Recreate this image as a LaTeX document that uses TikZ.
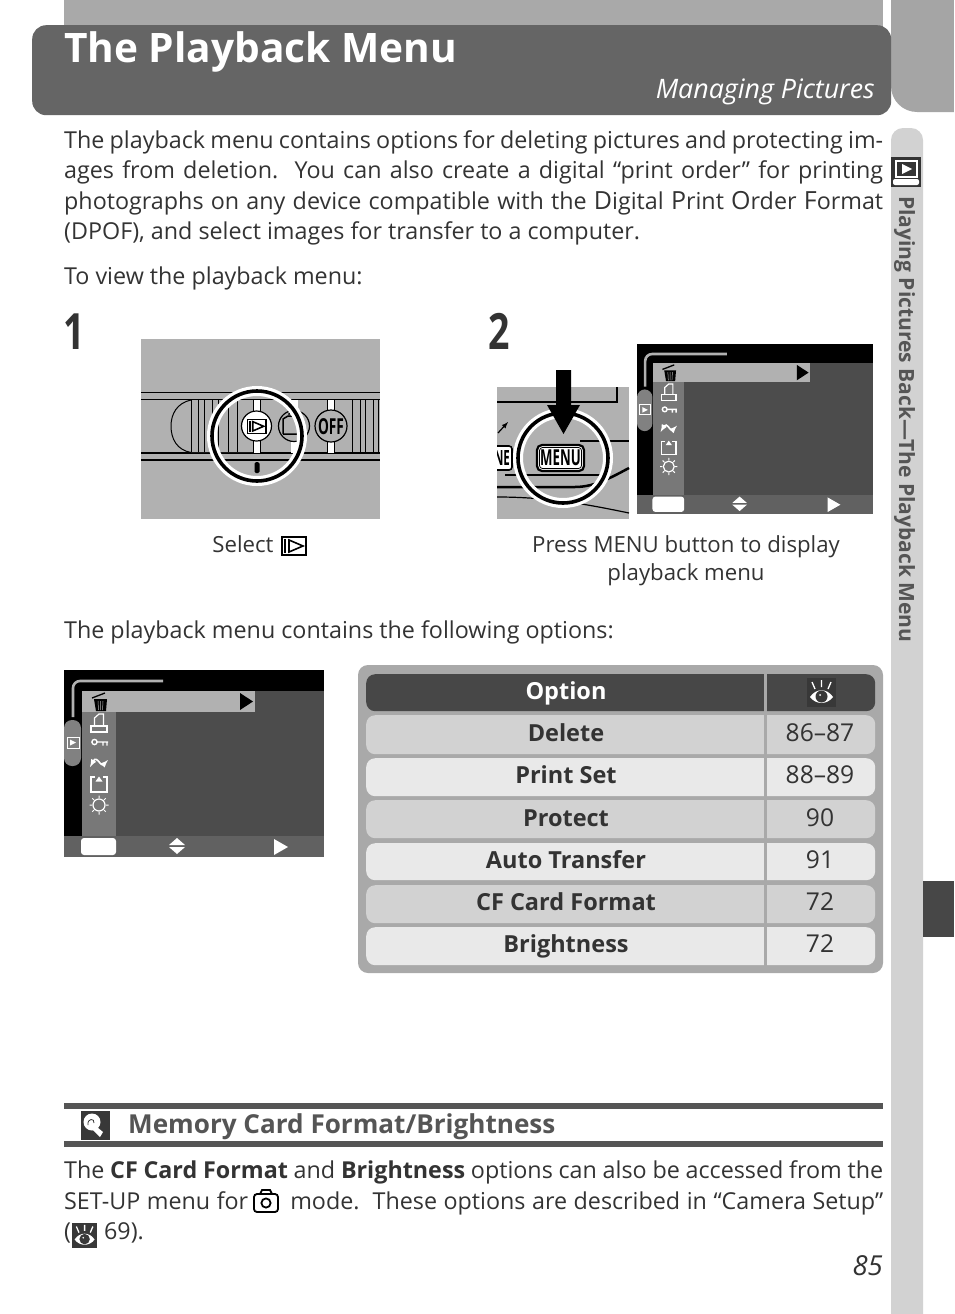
\documentclass[tikz,border=0pt]{standalone}
\usepackage{fontspec}
\usepackage{tikz}
\usetikzlibrary{positioning}
\setmainfont{Open Sans}

\definecolor{inkgray}{HTML}{333333}
\definecolor{headgray}{HTML}{656565}
\definecolor{sidegray}{HTML}{D2D2D2}
\definecolor{rulegray}{HTML}{555555}
\definecolor{panelgray}{HTML}{A9A9A9}
\definecolor{lightrow}{HTML}{E9E9E9}
\definecolor{darkrow}{HTML}{D2D2D2}

\newcommand{\fitline}[1]{\hbox to 819pt{#1}}
\newcommand{\initcap}[1]{{\fontsize{25}{26}\selectfont #1}}

\tikzset{
  % page glyphs
  pics/playglyph/.style={code={
    \fill[black] (0,0) rectangle (26,20);
    \fill[white] (2,2) rectangle (24,18);
    \draw[black, line width=2pt] (4,3) -- (4,17);
    \draw[black, line width=1.6pt, fill=white] (8,4) -- (22,10) -- (8,16) -- cycle;
  }},
  pics/eyeglyph/.style={code={
    \fill[#1] (0,0) rectangle (29,29);
    \draw[white, line width=1.3pt] (14.5,2) -- (14.5,9) (5,4) -- (8,11) (24,4) -- (21,11);
    \fill[white] (3,19) .. controls (9,10) and (20,10) .. (26,19) .. controls (20,27) and (9,27) .. (3,19) -- cycle;
    \fill[#1] (14.5,18.5) circle (6);
    \fill[white] (13,17) circle (1);
  }},
  pics/menuscreen/.style={code={
    \fill[black] (0,0) rectangle (260,187);
    \fill[mainscreen] (18,21) rectangle (260,166);
    \fill[colscreen] (18,42) rectangle (52,166);
    \fill[panelgray!90] (18,21) rectangle (191,42);
    \fill[barscreen] (0,166) rectangle (260,187);
    \fill[white, rounded corners=3pt] (17,168) rectangle (52,185);
    \fill[white] (113,168) -- (121,175) -- (105,175) -- cycle (105,177) -- (121,177) -- (113,184) -- cycle;
    \fill[white] (210,169) -- (224,177) -- (210,185) -- cycle;
    \fill[black] (176,23) -- (189,31.5) -- (176,40) -- cycle;
    % tab and its lead line
    \draw[panelgray!90, line width=2.6pt, rounded corners=7pt] (9,47) -- (9,11) -- (99,11);
    \fill[barscreen!80!white, rounded corners=8pt] (0,50) rectangle (17,96);
    \draw[white, fill=barscreen!80!white, line width=.8pt] (3,67) rectangle (15,78);
    \fill[white] (6,69.5) -- (12,72.5) -- (6,75.5) -- cycle;
    % column icons
    \draw[black, line width=1.3pt] (28,28) -- (41,23);
    \fill[black] (30,29) -- (43,29) -- (42,41) -- (32,41) -- cycle;
    \draw[panelgray!90, line width=.5pt] (34,31) -- (34.5,40) (36.5,31) -- (36.5,40) (39,31) -- (38.5,40);
    \draw[white, line width=1.2pt] (30.5,56) -- (30.5,48) -- (35,44) -- (39.5,44) -- (39.5,56);
    \draw[white, line width=1.2pt] (27,56) rectangle (43,62);
    \draw[white, line width=1.4pt] (30.5,72) circle (2.6) (33,72) -- (44,72) (39,72) -- (39,75.5) (43,72) -- (43,75.5);
    \draw[white, line width=1.6pt, <->, >=latex] (26,97) .. controls (31,88) and (33,89) .. (36,93) .. controls (38,96) and (40,94) .. (44,90);
    \draw[white, line width=1.2pt] (31,107) -- (27,107) -- (27,122) -- (43,122) -- (43,107) -- (39,107);
    \fill[white] (35,106.5) -- (38.5,111.5) -- (31.5,111.5) -- cycle;
    \draw[white, line width=1.2pt] (35,135) circle (6);
    \draw[white, line width=1pt] (35,125.5) -- (35,128) (35,142) -- (35,144.5) (25.5,135) -- (28,135) (42,135) -- (44.5,135)
      (28.3,128.3) -- (30,130) (40,140) -- (41.7,141.7) (41.7,128.3) -- (40,130) (30,140) -- (28.3,141.7);
  }}
}
\colorlet{mainscreen}{black!70}
\colorlet{colscreen}{black!53}
\colorlet{barscreen}{black!62}

\begin{document}
\begin{tikzpicture}[
  x=1pt, y=-1pt,
  every node/.style={inner sep=0pt, text=inkgray},
  bodyline/.style={anchor=base west, font=\fontsize{23.3}{30}\selectfont},
  caption/.style={anchor=base, font=\fontsize{22.2}{28}\selectfont},
  stepnum/.style={anchor=base west, font=\bfseries\fontsize{50}{54}\selectfont},
  optrow/.style={rounded corners=9pt, minimum width=509pt, minimum height=#1, anchor=north west},
  optname/.style={font=\bfseries\fontsize{23.5}{28}\selectfont, anchor=base},
  optpage/.style={font=\fontsize{24.6}{28}\selectfont, anchor=base}
]
\useasboundingbox (0,0) rectangle (954,1314);
\fill[white] (0,0) rectangle (954,1314);

% Page frame
\fill[panelgray] (64,0) rectangle (883,30);
\fill[panelgray!95!headgray, rounded corners=26pt] (891,-40) -- (891,112) -- (990,112) -- (990,-40) -- cycle;
\fill[white] (954,0) rectangle (990,120);
\node[fill=headgray, rounded corners=14pt, minimum width=859pt, minimum height=90pt, anchor=north west] (titlebox) at (32,25) {};
\node[anchor=base west, text=white, font=\bfseries\fontsize{40.6}{42}\selectfont] (title) at (64,63) {The Playback Menu};
\node[anchor=base east, text=white, font=\itshape\fontsize{26.8}{28}\selectfont] (section) at (875,98) {Managing Pictures};
\fill[sidegray, rounded corners=12pt] (891,128) -- (923,128) -- (923,1340) -- (891,1340) -- cycle;
\fill[black!72] (923,881) rectangle (954,937);
\node[rotate=-90, anchor=base west, text=rulegray, font=\bfseries\fontsize{21}{24}\selectfont] (sidetitle) at (899,196) {Playing Pictures Back---The Playback Menu};
\fill[inkgray] (891,157) rectangle (921,187);
\draw[white, line width=1.2pt] (896,161) rectangle (917,177);
\fill[white] (902,164) -- (912,169) -- (902,174) -- cycle;
\fill[white, rounded corners=2pt] (893,179) rectangle (919,185);

% Intro text
\node[bodyline] (introa) at (64,148) {\fitline{The playback menu contains options for deleting pictures and protecting im-}};
\node[bodyline] (introb) at (64,178) {\fitline{ages from deletion.\ \ You can also create a digital “print order” for printing}};
\node[bodyline] (introc) at (64,209) {\fitline{photographs on any device compatible with the \initcap{D}igital \initcap{P}rint \initcap{O}rder \initcap{F}ormat}};
\node[bodyline] (introd) at (64,239) {(DPOF), and select images for transfer to a computer.};
\node[bodyline] (toview) at (64,284) {To view the playback menu:};
\node[stepnum] (stepa) at (63,349) {\scalebox{.75}[1]{1}};
\node[stepnum] (stepb) at (488,349) {\scalebox{.75}[1]{2}};

% Mode dial
\fill[panelgray!90] (141,339) rectangle (380,519);
\draw[black, line width=1.5pt] (141,392.5) -- (380,392.5) (141,399.5) -- (380,399.5) (141,453) -- (380,453) (141,460) -- (380,460);
\fill[panelgray!90] (191,400.5) -- (172,412) -- (171,426) -- (175,442) -- (191,452) -- (260,452) -- (260,400.5) -- cycle;
\draw[black, line width=1pt] (191,400) .. controls (177,403) and (171,414) .. (171,426) .. controls (171,439) and (177,450) .. (191,452.5);
\draw[black, line width=1pt] (191,400) -- (191,452) (198,400) -- (198,452) (204,400) -- (204,452) (212,400) -- (212,452) (218,400) -- (218,452) (228,400) -- (228,452) (237,400) -- (237,452);
\draw[black, line width=1pt] (352,400) -- (352,452) (360,400) -- (360,452) (365,400) -- (365,452) (373,400) -- (373,452) (378,400) -- (378,452);
\fill[white] (253,400) rectangle (260,453);
\draw[black, line width=.8pt] (253,400) -- (253,412) (260,400) -- (260,412) (253,440) -- (253,453) (260,440) -- (260,453);
\draw[black, line width=1.2pt, fill=white] (256.5,426) circle (15);
\pic[scale=.78] at (246.5,418.5) {playglyph};
\fill[white] (290.5,400) rectangle (297.5,412);
\fill[white] (290.5,440) rectangle (297.5,453);
\draw[black, line width=1.2pt, fill=panelgray!90] (294,426) circle (15.5);
\draw[black, line width=1.5pt] (283,434) -- (283,419) -- (288,416) -- (300,416) (283,434) -- (306,434) (298,420) arc (30:-150:5.5);
\fill[white] (327.5,400) rectangle (334.5,453);
\draw[black, line width=.8pt] (327.5,400) -- (327.5,412) (334.5,400) -- (334.5,412) (327.5,440) -- (327.5,453) (334.5,440) -- (334.5,453);
\draw[black, line width=1.2pt, fill=panelgray!90] (331,426) circle (16);
\node[font=\bfseries\fontsize{22}{24}\selectfont, text=black] (offlabel) at (331,427) {\scalebox{.62}[1]{OFF}};
\fill[black, rounded corners=1.5pt] (254.5,462) rectangle (259.5,473);
\draw[white, line width=10pt] (257,436) circle (45);
\draw[black, line width=3.6pt] (257,436) circle (45);
\node[caption] (selectcap) at (243,552) {Select};
\pic at (281,536) {playglyph};

% Menu button
\fill[panelgray!90] (497,387) rectangle (629,519);
\draw[black, line width=1.5pt] (617,387) -- (617,402) -- (497,402);
\draw[black, line width=2.5pt] (580,441) -- (629,441) (505,475) -- (600,475);
\draw[black, line width=2.5pt] (497,487) -- (575,487) .. controls (595,487) and (612,477) .. (629,468);
\draw[black, line width=1.2pt] (497,497) .. controls (550,497) and (590,505) .. (629,513);
\draw[black, line width=1.6pt, rounded corners=3pt, fill=white] (484,446) rectangle (512,470);
\node[font=\bfseries\fontsize{21}{22}\selectfont, text=black] (nelabel) at (502,458) {\scalebox{.55}[1]{NE}};
\draw[black, line width=1.2pt, -latex] (498,433) -- (508,422);
\draw[white, line width=10pt] (563,458) circle (45);
\draw[black, line width=3.6pt] (563,458) circle (45);
\fill[white] (480,380) rectangle (497,525);
\draw[black, line width=2.2pt, rounded corners=5pt, fill=white] (537,445) rectangle (584,471);
\draw[black, line width=.8pt, rounded corners=3pt] (539.5,447.5) rectangle (581.5,468.5);
\node[font=\bfseries\fontsize{22}{24}\selectfont, text=black] (menulabel) at (560.5,458) {\scalebox{.6}[1]{MENU}};
\fill[black] (556,370) -- (571,370) -- (571,405) -- (580,405) -- (563.5,434) -- (547,405) -- (556,405) -- cycle;
\pic[scale=.908] at (637,344) {menuscreen};
\node[caption] (presscap) at (686,552) {Press MENU button to display};
\node[caption] (presscapb) at (686,580) {playback menu};

% Options
\node[bodyline] (optintro) at (64,638) {The playback menu contains the following options:};
\pic at (64,670) {menuscreen};
\fill[panelgray, rounded corners=10pt] (358,665) rectangle (883,973);
\node[optrow=37pt, fill=black!72] (rowhead) at (366,674) {};
\node[optrow=39pt, fill=darkrow] (rowa) at (366,715) {};
\node[optrow=38pt, fill=lightrow] (rowb) at (366,758) {};
\node[optrow=38pt, fill=darkrow] (rowc) at (366,800) {};
\node[optrow=37pt, fill=lightrow] (rowd) at (366,843) {};
\node[optrow=38pt, fill=darkrow] (rowe) at (366,885) {};
\node[optrow=38pt, fill=lightrow] (rowf) at (366,927) {};
\draw[panelgray, line width=3pt] (765.5,665) -- (765.5,973);
\node[optname, text=white] (opthead) at (566,699) {Option};
\pic at (807,678) {eyeglyph=black!78};
\node[optname] (namea) at (566,741) {Delete};
\node[optpage] (pagea) at (820,741) {86–87};
\node[optname] (nameb) at (566,783) {Print Set};
\node[optpage] (pageb) at (820,783) {88–89};
\node[optname] (namec) at (566,826) {Protect};
\node[optpage] (pagec) at (820,826) {90};
\node[optname] (named) at (566,868) {Auto Transfer};
\node[optpage] (paged) at (820,868) {91};
\node[optname] (namee) at (566,910) {CF Card Format};
\node[optpage] (pagee) at (820,910) {72};
\node[optname] (namef) at (566,952) {Brightness};
\node[optpage] (pagef) at (820,952) {72};

% Tip block
\fill[rulegray] (64,1103) rectangle (883,1109);
\fill[rulegray] (64,1141) rectangle (883,1147);
\fill[black!78] (81,1111) rectangle (110,1140);
\fill[white] (92,1122) circle (8.5);
\fill[white] (97,1127) -- (103,1132) -- (100,1137) -- (93,1130) -- cycle;
\draw[black!78, line width=.8pt] (88,1125) .. controls (87,1118) and (95,1118) .. (94,1123);
\node[anchor=base west, text=rulegray, font=\bfseries\fontsize{26.1}{30}\selectfont] (tiptitle) at (128,1133) {Memory Card Format/Brightness};
\node[bodyline] (tipa) at (64,1178) {\fitline{The \textbf{CF Card Format} and \textbf{Brightness} options can also be accessed from the}};
\node[bodyline] (tipb) at (64,1209) {\fitline{SET-UP menu for \hspace{29pt} mode.\ \ These options are described in “Camera Setup”}};
\node[bodyline] (tipc) at (64,1239) {(\hspace{27pt} 69).};
\draw[black, line width=1.8pt, rounded corners=3pt] (254,1194) rectangle (278,1212);
\draw[black, line width=1.8pt] (260,1194) -- (262,1190) -- (270,1190) -- (272,1194);
\draw[black, line width=1.8pt] (266,1203) circle (4.6);
\pic[scale=.87] at (72,1223) {eyeglyph=black!78};
\node[anchor=base east, font=\itshape\fontsize{27.5}{28}\selectfont] (pagenum) at (883,1275) {85};
\end{tikzpicture}
\end{document}
